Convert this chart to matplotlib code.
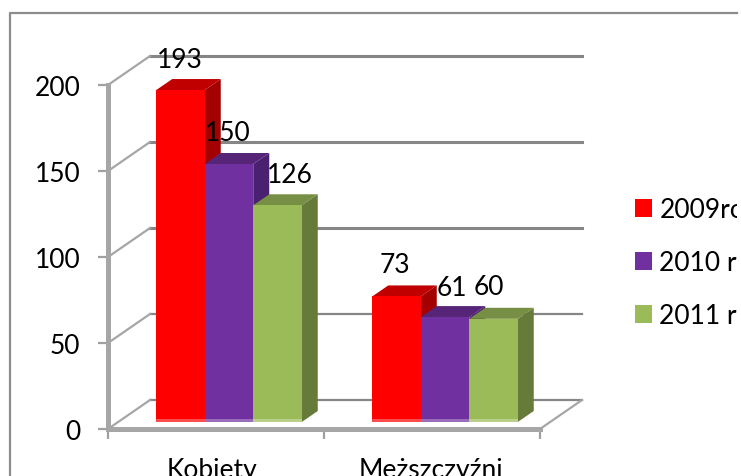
import matplotlib
matplotlib.use("Agg")
import matplotlib.pyplot as plt
from matplotlib.lines import Line2D
from matplotlib.patches import Patch, Polygon, Rectangle
from matplotlib.transforms import Affine2D, IdentityTransform

# Data
categories = ["Kobiety", "Meższczyźni"]
series_names = ["2009rok", "2010 rok", "2011 rok"]
values_2009 = [193, 73]
values_2010 = [150, 61]
values_2011 = [126, 60]
y_ticks = [0, 50, 100, 150, 200]

front_colors = ["#ff0000", "#7030a0", "#9bbb59"]
top_colors = ["#c00000", "#572578", "#778f45"]
side_colors = ["#a50000", "#4a2070", "#667a3a"]

W, H = 741, 477
plt.rcParams["font.family"] = ["Lato", "DejaVu Sans"]
plt.rcParams["font.size"] = 19

fig = plt.figure(figsize=(W / 100, H / 100), dpi=100)
# front plane of the 3D box, in pixels
left, right, bottom, top = 108, 540, 430, 86
ax = fig.add_axes([left / W, 1 - bottom / H, (right - left) / W, (bottom - top) / H])
ax.set_xlim(0, 2)
ax.set_ylim(0, 200)
ax.patch.set_visible(False)

px_x = 2 / (right - left)
px_y = 200 / (bottom - top)


def shifted(dx, dy):
    return ax.transData + Affine2D().translate(dx, dy)


# outer chart border, cut off at the right and bottom
fig.add_artist(Line2D([10, 10, 737], [0, H - 14, H - 14], transform=IdentityTransform(),
                      color="#8c8c8c", lw=1.6))

# back wall gridlines and the slanted side wall lines
wall_dx, wall_dy = 42, 29
for t in y_ticks:
    ax.plot([0, 2], [t, t], color="#868686", lw=2.2 if t >= 100 else 1.6, clip_on=False, zorder=1,
            transform=shifted(wall_dx, wall_dy))
    ax.plot([0, wall_dx * px_x], [t, t + wall_dy * px_y], color="#a6a6a6", lw=1.6,
            clip_on=False, zorder=1)
ax.plot([2, 2 + wall_dx * px_x], [0, wall_dy * px_y], color="#a6a6a6", lw=1.6,
        clip_on=False, zorder=1)

# bars
all_values = [values_2009, values_2010, values_2011]
bar_w = 48.5 * px_x
depth_x, depth_y = 16 * px_x, 11 * px_y
bar_shift = (13, 7)
offsets = [[(-1, 31), (-2, 32)], [(-1, 31), (7, 30)], [(12, 31), (-5, 32)]]
tr = shifted(*bar_shift)
for s, vals in enumerate(all_values):
    for c, v in enumerate(vals):
        x0 = c + 0.5 + (s - 1.5) * bar_w
        x1 = x0 + bar_w
        ax.add_patch(Polygon([(x1, 0), (x1 + depth_x, depth_y), (x1 + depth_x, v + depth_y), (x1, v)],
                             color=side_colors[s], lw=0, transform=tr, clip_on=False, zorder=2 + s))
        ax.add_patch(Polygon([(x0, v), (x0 + depth_x, v + depth_y), (x1 + depth_x, v + depth_y), (x1, v)],
                             color=top_colors[s], lw=0, transform=tr, clip_on=False, zorder=2 + s))
        ax.bar(x0, v, bar_w, align="edge", color=front_colors[s], lw=0, transform=tr,
               clip_on=False, zorder=2 + s)
        # paler strip along the foot of the bar
        ax.add_patch(Rectangle((x0, 0), bar_w, 3 * px_y, color="white", alpha=0.3, lw=0,
                               transform=tr, clip_on=False, zorder=2 + s))
        ax.annotate(str(v), xy=(x0 + bar_w / 2, v), xycoords=tr,
                    xytext=offsets[s][c], textcoords="offset pixels",
                    ha="center", va="center", color="black", zorder=10)

# axes
for name in ["top", "right"]:
    ax.spines[name].set_visible(False)
for name in ["left", "bottom"]:
    ax.spines[name].set_color("#a6a6a6")
    ax.spines[name].set_linewidth(3.6)
    ax.spines[name].set_zorder(6)
ax.set_yticks(y_ticks)
ax.tick_params(axis="y", length=7, width=1.6, color="#a0a0a0", pad=13, labelcolor="black")
ax.set_xticks([0, 1, 2])
ax.set_xticklabels([])
ax.tick_params(axis="x", which="major", length=7, width=1.6, color="#a0a0a0")
ax.set_xticks([0.5 - 4 * px_x, 1.5 - 1 * px_x], minor=True)
ax.set_xticklabels(categories, minor=True)
ax.tick_params(axis="x", which="minor", length=0, pad=20, labelcolor="black")

# legend, its text is cut off at the edge of the picture
handles = [Patch(color=c, lw=0) for c in front_colors]
leg = ax.legend(handles, series_names, loc="upper left",
                bbox_to_anchor=(630 / W, 1 - 193 / H), bbox_transform=fig.transFigure,
                frameon=False, handlelength=0.64, handleheight=0.64, handletextpad=0.27,
                labelspacing=1.06, borderpad=0.2, borderaxespad=0)
clip = Rectangle((0, 0), 737, H, transform=IdentityTransform())
for txt in leg.get_texts():
    txt.set_clip_path(clip)
    txt.set_clip_on(True)

fig.savefig("out.png", dpi=100)
